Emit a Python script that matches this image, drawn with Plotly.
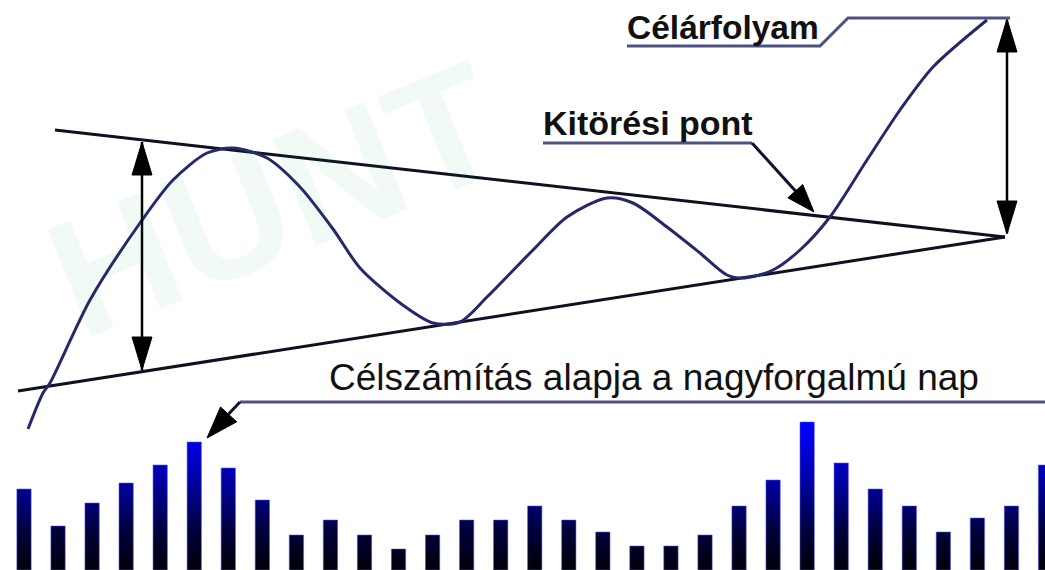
import math
import plotly.graph_objects as go

# ---------------- data ----------------
days = list(range(31))
volume = [81, 44, 67, 87, 105, 128, 102, 70, 35, 50, 35, 21, 35, 50, 50, 64,
          50, 38, 24, 24, 35, 64, 90, 148, 107, 81, 64, 38, 52, 64, 105]

price_x = [28, 43, 50, 90, 140, 173, 207, 233, 267, 300, 333, 360, 400, 433, 460,
           487, 533, 567, 607, 633, 667, 700, 727, 745, 773, 800, 830, 867, 900, 933, 987]
price_y = [429, 393, 383, 300, 223, 180, 153, 148, 158, 187, 229, 268, 303, 323, 322,
           297, 250, 217, 198, 203, 227, 253, 275, 278, 270, 250, 217, 160, 110, 67, 20]

upper_x = [55, 1005]
upper_y = [130, 237]
lower_x = [18, 1005]
lower_y = [391, 237]

labels = ["Célárfolyam", "Kitörési pont", "Célszámítás alapja a nagyforgalmú nap"]

# ---------------- figure ----------------
W, H = 1045, 570
fig = go.Figure()

# watermark (translucent so it never hides the drawing)
fig.add_annotation(x=275, y=200, xref="x", yref="y", text="<b>HUNT</b>", showarrow=False,
                   textangle=-22,
                   font=dict(family="Liberation Sans, Arial", size=168, color="rgba(0,150,70,0.05)"))

# volume bars as gradient-filled rectangles (on x2/y2)
half = 0.21
bx, by = [], []
for d, v in zip(days, volume):
    bx += [d - half, d + half, d + half, d - half, d - half, None]
    by += [0, 0, v, v, 0, None]
fig.add_trace(go.Scatter(
    x=bx, y=by, xaxis="x2", yaxis="y2", mode="lines", fill="toself",
    line=dict(color="rgba(90,90,240,0.55)", width=1),
    fillgradient=dict(type="vertical", start=0, stop=150,
                      colorscale=[[0, "#000008"], [0.25, "#000038"], [0.55, "#000098"],
                                  [0.8, "#0000d8"], [1, "#0000ff"]]),
    hoverinfo="skip", showlegend=False))

# triangle boundaries
fig.add_trace(go.Scatter(x=upper_x, y=upper_y, mode="lines",
                         line=dict(color="#101020", width=3), hoverinfo="skip", showlegend=False))
fig.add_trace(go.Scatter(x=lower_x, y=lower_y, mode="lines",
                         line=dict(color="#101020", width=3), hoverinfo="skip", showlegend=False))

# price wave
fig.add_trace(go.Scatter(x=price_x, y=price_y, mode="lines",
                         line=dict(color="#26286c", width=3, shape="spline", smoothing=0.8),
                         hoverinfo="skip", showlegend=False))

# ---------- decorations: pointer lines and arrows ----------
ptr_col = "#4c5282"
shapes = []


def seg(pts, color=ptr_col, width=3):
    p = "M " + " L ".join(f"{x},{y}" for x, y in pts)
    shapes.append(dict(type="path", path=p, xref="x", yref="y",
                       line=dict(color=color, width=width), layer="above"))


def head(tip, frm, length, hw, color="#000000"):
    dx, dy = tip[0] - frm[0], tip[1] - frm[1]
    n = math.hypot(dx, dy)
    ux, uy = dx / n, dy / n
    bx_, by_ = tip[0] - ux * length, tip[1] - uy * length
    px, py = -uy, ux
    p = (f"M {tip[0]},{tip[1]} L {bx_ + px * hw},{by_ + py * hw} "
         f"L {bx_ - px * hw},{by_ - py * hw} Z")
    shapes.append(dict(type="path", path=p, xref="x", yref="y", fillcolor=color,
                       line=dict(color=color, width=1), layer="above"))


# left double arrow
seg([(142, 142), (142, 370)], color="#000000", width=2.5)
head((142, 142), (142, 370), 33, 10)
head((142, 370), (142, 142), 33, 10)
# right double arrow
seg([(1007, 20), (1007, 233)], color="#000000", width=2.5)
head((1007, 19), (1007, 233), 33, 10)
head((1007, 234), (1007, 20), 33, 10)

# Célárfolyam connector
seg([(627, 46), (820, 46), (848, 18), (1010, 18)])
# Kitörési pont connector
seg([(543, 143), (752, 143)])
seg([(752, 143), (800, 196)], color="#101030", width=3)
head((814, 212), (752, 143), 28, 10)
# Célszámítás connector
seg([(1045, 402), (240, 402)])
seg([(240, 402), (222, 421)], color="#101030", width=3)
head((207, 438), (240, 402), 32, 11)

fig.update_layout(shapes=shapes)

# texts
fig.add_annotation(x=625, y=27, text="<b>" + labels[0] + "</b>", showarrow=False,
                   xanchor="left", yanchor="middle",
                   font=dict(family="Liberation Sans, Arial", size=33.5, color="#111111"))
fig.add_annotation(x=541, y=123, text="<b>" + labels[1] + "</b>", showarrow=False,
                   xanchor="left", yanchor="middle",
                   font=dict(family="Liberation Sans, Arial", size=34, color="#111111"))
fig.add_annotation(x=327, y=377, text=labels[2], showarrow=False, xanchor="left", yanchor="middle",
                   font=dict(family="Liberation Sans, Arial", size=37, color="#111111"))

x2_lo = -24 / 34.05
x2_hi = (W - 24) / 34.05
fig.update_layout(
    width=W, height=H, margin=dict(l=0, r=0, t=0, b=0),
    paper_bgcolor="white", plot_bgcolor="white",
    xaxis=dict(range=[0, W], visible=False, fixedrange=True),
    yaxis=dict(range=[H, 0], visible=False, fixedrange=True),
    xaxis2=dict(range=[x2_lo, x2_hi], overlaying="x", visible=False, fixedrange=True),
    yaxis2=dict(range=[0, H], overlaying="y", visible=False, fixedrange=True),
    showlegend=False,
)

fig.write_html("out.html", config={"displayModeBar": False},
               post_script="document.body.style.margin='0';document.body.style.overflow='hidden';")
